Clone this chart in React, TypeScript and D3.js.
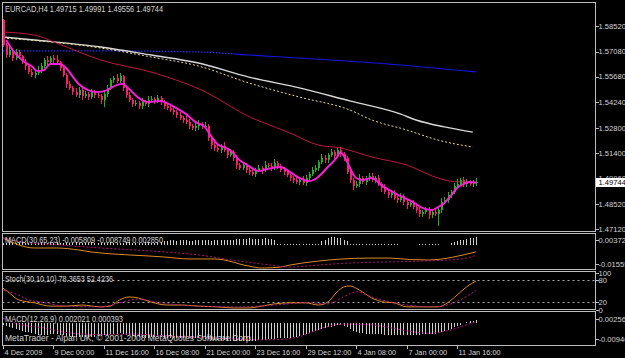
import React from "react";
import * as d3 from "d3";

// ---------- data ----------
const TITLE = "EURCAD,H4  1.49715 1.49991 1.49556 1.49744";
const LABEL_MACD1 = "MACD(30,65,23) -0.005809 -0.008749 0.002850";
const LABEL_STOCH = "Stoch(30,10,10) 78.3653 52.4236";
const LABEL_MACD2 = "MACD(12,26,9) 0.002021 0.000393";
const COPYRIGHT = "MetaTrader - Alpari UK, \u00A9 2001-2008 MetaQuotes Software Corp.";

const TIME_TICK_BARS = [0, 16, 32, 48, 64, 80, 96, 112, 128, 144];
const TIME_LABELS = [
  "4 Dec 2009", "9 Dec 00:00", "11 Dec 16:00", "16 Dec 08:00", "21 Dec 00:00",
  "23 Dec 16:00", "29 Dec 12:00", "4 Jan 08:00", "7 Jan 00:00", "11 Jan 16:00",
];
const PRICE_TICKS = [1.5852, 1.5708, 1.5568, 1.5424, 1.528, 1.514, 1.4996, 1.4852, 1.4712];
const LAST_PRICE = 1.49744;
const MACD1_TICKS = [0.00372, -0.01555];
const MACD1_TICK_LABELS = ["0.003720", "-0.01555"];
const STOCH_TICKS = [100, 80, 20, 0];
const STOCH_LEVELS = [80, 20];
const MACD2_TICKS = [0.002564, -0.00946];
const MACD2_TICK_LABELS = ["0.002564", "-0.00946"];

const FIRST_OPEN = 1.5886;
const CLOSE = [
  1.5745, 1.5689, 1.5717, 1.5672, 1.5706, 1.5683, 1.5650, 1.5627, 1.5594, 1.5577,
  1.5588, 1.5605, 1.5627, 1.5661, 1.5650, 1.5672, 1.5661, 1.5650, 1.5616, 1.5577,
  1.5526, 1.5504, 1.5481, 1.5464, 1.5492, 1.5459, 1.5470, 1.5453, 1.5481, 1.5464,
  1.5458, 1.5436, 1.5470, 1.5504, 1.5549, 1.5560, 1.5543, 1.5571, 1.5504, 1.5464,
  1.5436, 1.5414, 1.5419, 1.5403, 1.5425, 1.5414, 1.5436, 1.5442, 1.5431, 1.5447,
  1.5425, 1.5403, 1.5391, 1.5380, 1.5369, 1.5352, 1.5335, 1.5324, 1.5313, 1.5290,
  1.5279, 1.5290, 1.5301, 1.5285, 1.5290, 1.5223, 1.5183, 1.5167, 1.5155, 1.5178,
  1.5155, 1.5127, 1.5144, 1.5110, 1.5071, 1.5054, 1.5071, 1.5043, 1.5032, 1.5020,
  1.5043, 1.5054, 1.5043, 1.5071, 1.5065, 1.5054, 1.5082, 1.5065, 1.5043, 1.5032,
  1.5015, 1.4998, 1.4987, 1.4976, 1.4987, 1.4970, 1.4998, 1.5020, 1.5043, 1.5054,
  1.5088, 1.5110, 1.5099, 1.5127, 1.5144, 1.5122, 1.5155, 1.5133, 1.5110, 1.5032,
  1.4987, 1.4953, 1.4965, 1.4998, 1.4976, 1.4998, 1.5009, 1.4987, 1.4998, 1.4965,
  1.4942, 1.4919, 1.4902, 1.4913, 1.4886, 1.4874, 1.4897, 1.4863, 1.4846, 1.4857,
  1.4835, 1.4818, 1.4796, 1.4807, 1.4818, 1.4790, 1.4807, 1.4796, 1.4818, 1.4863,
  1.4874, 1.4902, 1.4919, 1.4953, 1.4965, 1.4987, 1.4965, 1.4976, 1.4965, 1.49715,
  1.49744,
];
// wick extensions in pips beyond the body
const UPPER_PIPS = [
  4, 14, 20, 10, 16, 12, 8, 15, 10, 18, 13, 22, 16, 12, 20, 10, 15, 28, 8, 12,
  10, 15, 13, 20, 16, 12, 18, 10, 15, 13, 16, 12, 21, 15, 13, 10, 20, 17, 8, 12,
  15, 10, 16, 13, 20, 12, 24, 15, 10, 16, 13, 12, 18, 10, 15, 13, 16, 12, 20, 15,
  10, 16, 22, 13, 25, 10, 12, 15, 18, 13, 20, 12, 15, 10, 16, 13, 18, 12, 21, 15,
  10, 16, 13, 20, 12, 15, 22, 13, 10, 16, 13, 18, 12, 15, 10, 20, 16, 13, 15, 18,
  12, 21, 15, 13, 16, 10, 12, 15, 12, 13, 16, 10, 15, 20, 13, 12, 18, 15, 10, 16,
  13, 20, 12, 15, 16, 10, 18, 13, 15, 12, 20, 13, 16, 10, 15, 18, 12, 16, 13, 22,
  15, 20, 13, 16, 25, 12, 15, 18, 13, 16, 24.7,
];
const LOWER_PIPS = [
  10, 15, 12, 18, 13, 16, 10, 20, 13, 12, 16, 10, 15, 13, 18, 12, 15, 10, 16, 13,
  20, 13, 16, 12, 15, 22, 13, 18, 10, 15, 13, 20, 40, 15, 12, 16, 13, 10, 18, 15,
  13, 16, 12, 20, 15, 10, 18, 13, 16, 12, 15, 20, 13, 10, 16, 15, 12, 18, 13, 16,
  12, 15, 20, 13, 10, 16, 22, 15, 12, 18, 13, 16, 12, 15, 20, 13, 10, 18, 15, 12,
  16, 13, 20, 12, 15, 18, 10, 16, 13, 15, 12, 18, 15, 13, 20, 10, 16, 15, 12, 13,
  18, 12, 15, 16, 10, 20, 13, 15, 16, 12, 15, 20, 13, 16, 12, 18, 15, 10, 16, 13,
  20, 12, 15, 18, 13, 16, 10, 15, 20, 13, 12, 16, 15, 18, 13, 20, 15, 12, 68, 16,
  13, 18, 15, 12, 16, 13, 20, 15, 12, 15, 15.9,
];

// moving averages, sampled [bar, price]
const MA_FAST: [number, number][] = [
  [1, 1.5773], [3, 1.5717], [6, 1.5661], [9, 1.5627], [11, 1.5599], [13, 1.5605], [15, 1.5639],
  [18, 1.5639], [20, 1.5616], [22, 1.5571], [24, 1.5526], [27, 1.5492], [30, 1.5481], [33, 1.5492],
  [36, 1.5520], [38, 1.5526], [40, 1.5498], [43, 1.5448], [46, 1.5425], [50, 1.5431], [52, 1.5419],
  [55, 1.5391], [58, 1.5358], [61, 1.5313], [64, 1.5285], [66, 1.5234], [68, 1.5189], [72, 1.5155],
  [75, 1.5099], [78, 1.5065], [81, 1.5037], [84, 1.5049], [88, 1.5060], [91, 1.5032], [94, 1.4998],
  [97, 1.4981], [100, 1.5004], [103, 1.5060], [106, 1.5116], [107, 1.5144], [109, 1.5094],
  [111, 1.5021], [112, 1.4998], [114, 1.4987], [117, 1.4998], [120, 1.4958], [123, 1.4925],
  [126, 1.4897], [130, 1.4863], [133, 1.4830], [136, 1.4818], [138, 1.4835], [140, 1.4858],
  [142, 1.4897], [144, 1.4942], [146, 1.4964], [148, 1.4976], [150, 1.4970],
];
const MA_RED: [number, number][] = [
  [0, 1.5818], [10, 1.5801], [17, 1.5756], [31, 1.5661], [48, 1.5588], [63, 1.5492], [79, 1.5335],
  [82, 1.5313], [91, 1.5251], [100, 1.5183], [107, 1.5167], [117, 1.5116], [128, 1.5071],
  [139, 1.4992], [144, 1.4976], [150, 1.4976],
];
const MA_WHITE: [number, number][] = [
  [0, 1.5790], [10, 1.5773], [31, 1.5734], [47, 1.5689], [62, 1.5644], [78, 1.5565], [94, 1.5504],
  [110, 1.5431], [126, 1.5358], [131, 1.5324], [140, 1.5285], [149, 1.5256],
];
const MA_YELLOW: [number, number][] = [
  [0, 1.5785], [31, 1.5728], [47, 1.5678], [62, 1.5627], [78, 1.5532], [94, 1.5453], [110, 1.5380],
  [117, 1.5324], [128, 1.5268], [138, 1.5211], [149, 1.5172],
];
const MA_BLUE: [number, number][] = [
  [0, 1.5712], [31, 1.5712], [62, 1.5706], [78, 1.5689], [104, 1.5661], [126, 1.5633], [150, 1.5594],
];

// MACD(30,65,23)
const MACD1_MAIN: [number, number][] = [
  [0, 0.0053], [10, -0.0027], [17, -0.0027], [24, -0.0043], [28, -0.0059], [35, -0.0075], [46, -0.0091],
  [51, -0.0099], [59, -0.0115], [67, -0.0115], [73, -0.0140], [75, -0.0155], [78, -0.0172], [82, -0.0188],
  [88, -0.0180], [91, -0.0164], [100, -0.0132], [107, -0.0116], [116, -0.0108], [123, -0.0108],
  [129, -0.0120], [135, -0.0123], [139, -0.0116], [143, -0.0099], [150, -0.0058],
];
const MACD1_SIGNAL: [number, number][] = [
  [0, 0.0053], [6, 0.0021], [18, -0.0003], [31, -0.0027], [47, -0.0051], [62, -0.0083], [75, -0.0132],
  [85, -0.0164], [91, -0.0180], [100, -0.0164], [110, -0.0148], [120, -0.0140], [133, -0.0132],
  [145, -0.0116], [150, -0.0087],
];
const MACD1_HIST = [
  0.0012, 0.0015, 0.0018, 0.0014, 0.0012, 0.0016, 0.0019, 0.0015, 0.0013, 0.0012,
  0.0014, 0.0017, 0.0015, 0.0012, 0.0011, 0.0014, 0.0016, 0.0018, 0.0015, 0.0013,
  0.0012, 0.0015, 0.0017, 0.0019, 0.0016, 0.0014, 0.0012, 0.0015, 0.0018, 0.0016,
  0.0014, 0.0013, 0.0015, 0.0017, 0.0019, 0.0016, 0.0014, 0.0012, 0.0015, 0.0018,
  0.0020, 0.0017, 0.0015, 0.0013, 0.0016, 0.0018, 0.0020, 0.0017, 0.0015, 0.0016,
  0.0018,
  0.0030, 0.0033, 0.0036, 0.0034, 0.0031, 0.0035, 0.0038, 0.0036, 0.0033, 0.0030,
  0.0034, 0.0037, 0.0040, 0.0038, 0.0035, 0.0032, 0.0036, 0.0039, 0.0041, 0.0038,
  0.0035, 0.0037, 0.0040, 0.0042,
  0.0044, 0.0046, 0.0048, 0.0050, 0.0049, 0.0047, 0.0046, 0.0048, 0.0050, 0.0047, 0.0044, 0.0040,
  0.0008, 0.0008, 0.0008, 0.0008, 0.0008, 0.0008, 0.0008, 0.0008, 0.0008, 0.0008, 0.0008, 0.0008, 0.0008, 0.0008,
  0.0030, 0.0040, 0.0050, 0.0060, 0.0062, 0.0056, 0.0050, 0.0040, 0.0030,
  0.0008, 0.0008, 0.0008, 0.0008, 0.0008, 0.0008, 0.0008, 0.0008, 0.0008, 0.0008, 0.0008, 0.0008, 0.0008, 0.0008, 0.0008, 0.0008,
  0, 0, 0, 0, 0, 0,
  0.0008, 0.0008, 0.0008, 0.0008, 0.0008, 0.0008, 0.0008,
  0, 0, 0,
  0.0010, 0.0020, 0.0030, 0.0035, 0.0040, 0.0045, 0.0050, 0.0055, 0.0060,
];

// Stochastic(30,10,10)
const STOCH_MAIN: [number, number][] = [
  [0, 59], [2, 46], [5, 27], [10, 19], [15, 10], [20, 10], [25, 13], [31, 8], [34, 10], [37, 27],
  [40, 35], [43, 32], [47, 21], [52, 13], [57, 13], [62, 10], [68, 8], [73, 5], [78, 5], [82, 10],
  [86, 16], [91, 19], [96, 19], [100, 13], [103, 21], [106, 49], [108, 62], [110, 65], [113, 54],
  [117, 32], [121, 21], [124, 19], [128, 8], [135, 8], [138, 8], [141, 19], [144, 40], [147, 62],
  [150, 78.37],
];
const STOCH_SIGNAL: [number, number][] = [
  [0, 54], [5, 40], [8, 27], [12, 21], [20, 10], [31, 8], [37, 19], [43, 29], [50, 19], [62, 10],
  [75, 8], [86, 13], [96, 19], [103, 16], [108, 35], [112, 49], [117, 35], [123, 21], [128, 13],
  [137, 8], [141, 13], [145, 27], [150, 52.42],
];

// MACD(12,26,9)
const MACD2_HIST = [
  -0.0010, -0.0015, -0.0020,
  -0.0030, -0.0035, -0.0040, -0.0045, -0.0050, -0.0055,
  -0.0060, -0.0065, -0.0068, -0.0070, -0.0070, -0.0068, -0.0066, -0.0065, -0.0066, -0.0068, -0.0072, -0.0076, -0.0078, -0.0080, -0.0080, -0.0081,
  -0.0082, -0.0083, -0.0083, -0.0082, -0.0080, -0.0078, -0.0076, -0.0073, -0.0070, -0.0067,
  -0.0064, -0.0062, -0.0061, -0.0063, -0.0068,
  -0.0073, -0.0077, -0.0080, -0.0083, -0.0085, -0.0086, -0.0086, -0.0085, -0.0084, -0.0084, -0.0085, -0.0086,
  -0.0087, -0.0088, -0.0088, -0.0089, -0.0090, -0.0090, -0.0091, -0.0091, -0.0090, -0.0089, -0.0088,
  -0.0090, -0.0093, -0.0096, -0.0099, -0.0101, -0.0102, -0.0102, -0.0103, -0.0104, -0.0105, -0.0106, -0.0107, -0.0107,
  -0.0108, -0.0108, -0.0107, -0.0106, -0.0104, -0.0102, -0.0100, -0.0098, -0.0096, -0.0094, -0.0092, -0.0091,
  -0.0090, -0.0089, -0.0088, -0.0087, -0.0085,
  -0.0082, -0.0078, -0.0073, -0.0067, -0.0060, -0.0053, -0.0046, -0.0040,
  -0.0034, -0.0029, -0.0024, -0.0020, -0.0016, -0.0013, -0.0012, -0.0015,
  -0.0025, -0.0035, -0.0045, -0.0052, -0.0057,
  -0.0060, -0.0062, -0.0063, -0.0064, -0.0065, -0.0066, -0.0067, -0.0068, -0.0069, -0.0070, -0.0071, -0.0071,
  -0.0072, -0.0072, -0.0072, -0.0071, -0.0070, -0.0069, -0.0068,
  -0.0067, -0.0066, -0.0065, -0.0064, -0.0063, -0.0060, -0.0055,
  -0.0048, -0.0040, -0.0032, -0.0024, -0.0016, -0.0008,
  0.0000, 0.0006, 0.0011, 0.0016, 0.0020,
];
const MACD2_SIGNAL: [number, number][] = [
  [0, 0.003], [6, -0.001], [13, -0.0028], [21, -0.0058], [31, -0.0068], [40, -0.0065], [52, -0.0075],
  [62, -0.0085], [75, -0.0095], [82, -0.0100], [90, -0.0095], [95, -0.0075], [101, -0.0030],
  [108, -0.0005], [117, -0.0010], [128, -0.0045], [135, -0.0060], [141, -0.0045], [147, -0.0010],
  [150, 0.0010],
];

// ---------- layout ----------
const W = 625;
const H = 358;
const LEFT = 2.5;
const RIGHT = 595.5;
const PANELS = {
  main: [2.5, 231.5],
  macd1: [233.5, 269.5],
  stoch: [271.5, 309.5],
  macd2: [311.5, 345.5],
};
const TEXT = "#d4d4d4";
const FONT = "'Liberation Sans', Arial, sans-serif";

export default function App() {
  const x = d3.scaleLinear().domain([0, 144]).range([3, 457]);
  const yMain = d3.scaleLinear().domain([1.4712, 1.5852]).range([228.9, 26]);
  const yM1 = d3.scaleLinear().domain([-0.01555, 0.00372]).range([264, 240]);
  const yS = d3.scaleLinear().domain([0, 100]).range([309.8, 273.1]);
  const yM2 = d3.scaleLinear().domain([-0.00946, 0.002564]).range([339, 319]);

  const mk = (ys: d3.ScaleLinear<number, number>) =>
    d3.line<[number, number]>().x((d) => x(d[0])).y((d) => ys(d[1])).curve(d3.curveMonotoneX);
  const lMain = mk(yMain);
  const lM1 = mk(yM1);
  const lS = mk(yS);
  const lM2 = mk(yM2);

  const bars = CLOSE.map((c, i) => {
    const o = i === 0 ? FIRST_OPEN : CLOSE[i - 1];
    const hi = Math.max(o, c) + UPPER_PIPS[i] / 10000;
    const lo = Math.min(o, c) - LOWER_PIPS[i] / 10000;
    return { i, o, c, hi, lo, up: c >= o };
  });

  const panelRect = (key: keyof typeof PANELS) => {
    const [t, b] = PANELS[key];
    return { x: LEFT, y: t, width: RIGHT - LEFT, height: b - t };
  };

  const blueSplit = x(73);
  const m1Zero = yM1(0);
  const m2Zero = yM2(0);

  return (
    <svg width={W} height={H} style={{ position: "absolute", left: 0, top: 0, background: "#000" }}
      fontFamily={FONT}>
      <defs>
        {(Object.keys(PANELS) as (keyof typeof PANELS)[]).map((k) => {
          const r = panelRect(k);
          return (
            <clipPath id={`clip-${k}`} key={k}>
              <rect x={r.x + 0.5} y={r.y + 0.5} width={r.width - 1} height={r.height - 1} />
            </clipPath>
          );
        })}
        <clipPath id="clip-blue-left">
          <rect x={0} y={0} width={blueSplit} height={231} />
        </clipPath>
        <clipPath id="clip-blue-right">
          <rect x={blueSplit} y={0} width={RIGHT - blueSplit} height={231} />
        </clipPath>
      </defs>
      <rect x={0} y={0} width={W} height={H} fill="#000" />

      {/* ---------- main panel ---------- */}
      <g clipPath="url(#clip-main)">
        <g clipPath="url(#clip-blue-left)">
          <path d={lMain(MA_BLUE) || ""} fill="none" stroke="#2a2aff" strokeWidth={1.3} strokeDasharray="1.5,1.5" />
        </g>
        <g clipPath="url(#clip-blue-right)">
          <path d={lMain(MA_BLUE) || ""} fill="none" stroke="#1414e6" strokeWidth={1.2} />
        </g>
        <path d={lMain(MA_WHITE) || ""} fill="none" stroke="#d8d8d8" strokeWidth={1.4} />
        <path d={lMain(MA_YELLOW) || ""} fill="none" stroke="#e6d796" strokeWidth={1} strokeDasharray="2,2" />
        <path d={lMain(MA_RED) || ""} fill="none" stroke="#c0163f" strokeWidth={1} />
        <g shapeRendering="crispEdges">
          {bars.map((b) => {
            const cx = Math.round(x(b.i));
            const col = b.up ? "#1fb31f" : "#ff1a6c";
            const top = yMain(Math.max(b.o, b.c));
            const bot = yMain(Math.min(b.o, b.c));
            return (
              <g key={b.i}>
                <line x1={cx + 0.5} x2={cx + 0.5} y1={yMain(b.hi)} y2={yMain(b.lo)} stroke={col} strokeWidth={1} />
                <rect x={cx - 0.5} y={top} width={2} height={Math.max(1, bot - top)} fill={col} />
              </g>
            );
          })}
        </g>
        <path d={lMain(MA_FAST) || ""} fill="none" stroke="#f022d2" strokeWidth={2} />
      </g>
      <text x={5} y={11.5} fill={TEXT} fontSize={8.5} textLength={158} lengthAdjust="spacingAndGlyphs">
        {TITLE}
      </text>

      {/* ---------- MACD(30,65,23) ---------- */}
      <g clipPath="url(#clip-macd1)">
        <g shapeRendering="crispEdges">
          {MACD1_HIST.map((v, i) =>
            v === 0 ? null : (
              <line key={i} x1={Math.round(x(i)) + 0.5} x2={Math.round(x(i)) + 0.5}
                y1={m1Zero} y2={Math.min(m1Zero - 1, yM1(v))} stroke="#d0d0d0" strokeWidth={1} />
            )
          )}
        </g>
        <path d={lM1(MACD1_MAIN) || ""} fill="none" stroke="#e08a24" strokeWidth={1} />
        <path d={lM1(MACD1_SIGNAL) || ""} fill="none" stroke="#b0127a" strokeWidth={1} strokeDasharray="2,2" />
      </g>
      <text x={5} y={243} fill={TEXT} fontSize={8.5} textLength={158} lengthAdjust="spacingAndGlyphs">
        {LABEL_MACD1}
      </text>

      {/* ---------- Stochastic ---------- */}
      <g clipPath="url(#clip-stoch)">
        {STOCH_LEVELS.map((lv) => (
          <line key={lv} x1={LEFT} x2={RIGHT} y1={Math.round(yS(lv)) + 0.5} y2={Math.round(yS(lv)) + 0.5}
            stroke="#a8a8a8" strokeWidth={1} strokeDasharray="2,3" />
        ))}
        <path d={lS(STOCH_MAIN) || ""} fill="none" stroke="#e08a24" strokeWidth={1} />
        <path d={lS(STOCH_SIGNAL) || ""} fill="none" stroke="#c0148a" strokeWidth={1} strokeDasharray="2,2" />
      </g>
      <text x={5} y={282} fill={TEXT} fontSize={8.5} textLength={108} lengthAdjust="spacingAndGlyphs">
        {LABEL_STOCH}
      </text>

      {/* ---------- MACD(12,26,9) ---------- */}
      <g clipPath="url(#clip-macd2)">
        <g shapeRendering="crispEdges">
          {MACD2_HIST.map((v, i) => (
            <line key={i} x1={Math.round(x(i)) + 0.5} x2={Math.round(x(i)) + 0.5}
              y1={m2Zero} y2={yM2(v)} stroke="#cfcfcf" strokeWidth={1} />
          ))}
        </g>
        <path d={lM2(MACD2_SIGNAL) || ""} fill="none" stroke="#c0148a" strokeWidth={1} strokeDasharray="2,2" />
      </g>
      <text x={5} y={322} fill={TEXT} fontSize={8.5} textLength={118} lengthAdjust="spacingAndGlyphs">
        {LABEL_MACD2}
      </text>
      <text x={5} y={340.5} fill={TEXT} fontSize={9} textLength={248} lengthAdjust="spacingAndGlyphs">
        {COPYRIGHT}
      </text>

      {/* ---------- frames ---------- */}
      <g fill="none" stroke="#bdbdbd" strokeWidth={1} shapeRendering="crispEdges">
        {(Object.keys(PANELS) as (keyof typeof PANELS)[]).map((k) => {
          const r = panelRect(k);
          return <rect key={k} x={r.x} y={r.y} width={r.width} height={r.height} />;
        })}
      </g>

      {/* ---------- right axis ---------- */}
      <g fontSize={7.6} fill={TEXT} shapeRendering="crispEdges">
        {PRICE_TICKS.map((p) => (
          <g key={p}>
            <line x1={RIGHT} x2={RIGHT + 3} y1={Math.round(yMain(p)) + 0.5} y2={Math.round(yMain(p)) + 0.5} stroke="#bdbdbd" />
            <text x={598.5} y={yMain(p) + 2.8}>{p.toFixed(5)}</text>
          </g>
        ))}
        <rect x={596} y={yMain(LAST_PRICE) - 4.6} width={29} height={9.5} fill="#ffffff" />
        <text x={598.5} y={yMain(LAST_PRICE) + 2.8} fill="#000">{LAST_PRICE.toFixed(5)}</text>
        {MACD1_TICKS.map((v, k) => (
          <g key={v}>
            <line x1={RIGHT} x2={RIGHT + 3} y1={Math.round(yM1(v)) + 0.5} y2={Math.round(yM1(v)) + 0.5} stroke="#bdbdbd" />
            <text x={598.5} y={yM1(v) + 2.8}>{MACD1_TICK_LABELS[k]}</text>
          </g>
        ))}
        {STOCH_TICKS.map((v) => (
          <g key={v}>
            <line x1={RIGHT} x2={RIGHT + 3} y1={Math.round(yS(v)) + 0.5} y2={Math.round(yS(v)) + 0.5} stroke="#bdbdbd" />
            <text x={598.5} y={yS(v) + 2.8}>{String(v)}</text>
          </g>
        ))}
        {MACD2_TICKS.map((v, k) => (
          <g key={v}>
            <line x1={RIGHT} x2={RIGHT + 3} y1={Math.round(yM2(v)) + 0.5} y2={Math.round(yM2(v)) + 0.5} stroke="#bdbdbd" />
            <text x={598.5} y={yM2(v) + 2.8}>{MACD2_TICK_LABELS[k]}</text>
          </g>
        ))}
      </g>

      {/* ---------- time axis ---------- */}
      <g fontSize={7.4} fill={TEXT} shapeRendering="crispEdges">
        {TIME_TICK_BARS.map((b, k) => {
          const tx = Math.round(x(b)) + 0.5;
          return (
            <g key={b}>
              <line x1={tx} x2={tx} y1={345.5} y2={349} stroke="#bdbdbd" />
              <text x={tx + 1} y={354.5}>{TIME_LABELS[k]}</text>
            </g>
          );
        })}
      </g>
    </svg>
  );
}
